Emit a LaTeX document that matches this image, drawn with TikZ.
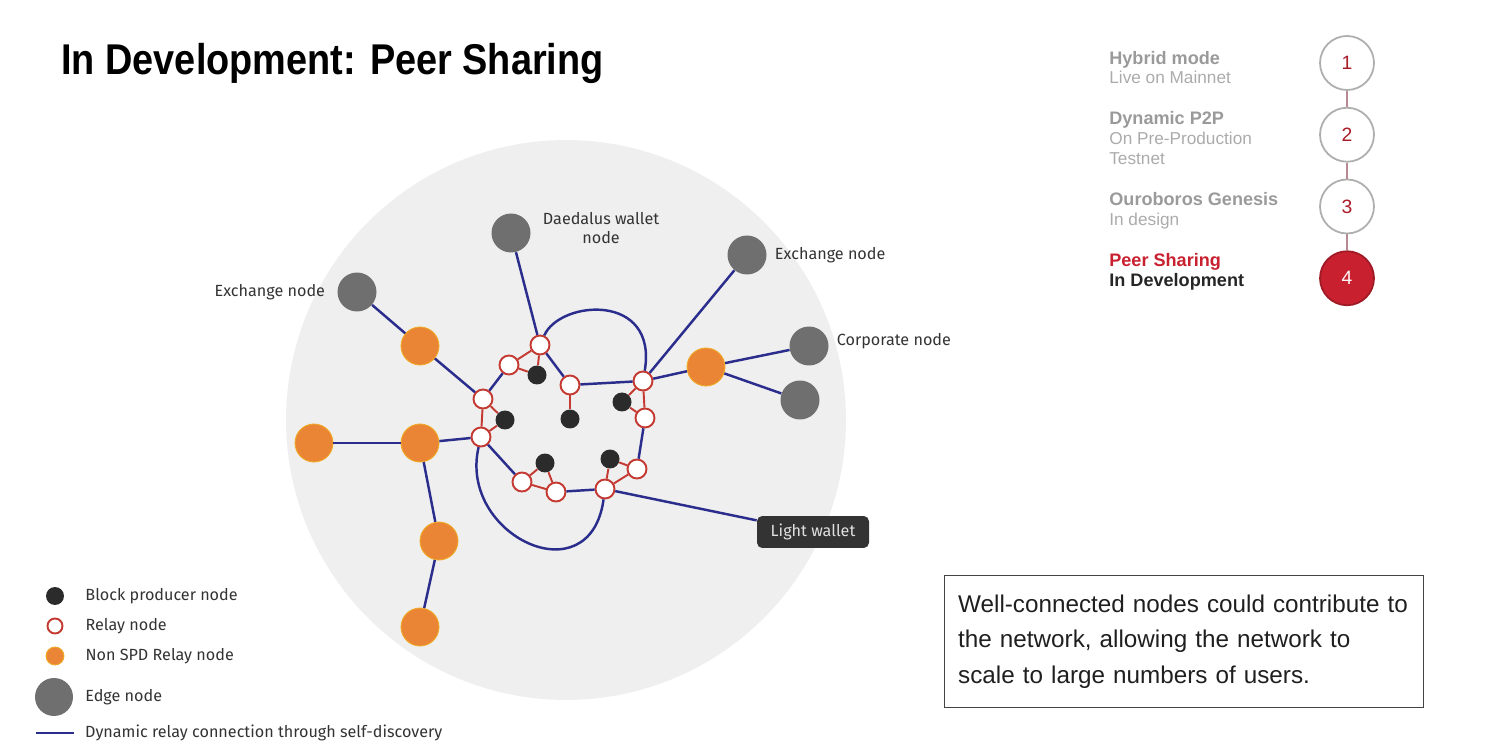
\documentclass[tikz,border=0pt]{standalone}
\usepackage{fontspec}
\setmainfont{Liberation Sans}
\newfontfamily\labelfont{Fira Sans}
\newfontfamily\titlefont[FakeStretch=0.88]{Liberation Sans}
\usetikzlibrary{positioning}

\definecolor{bgcircle}{HTML}{EFEFEF}
\definecolor{edgegray}{HTML}{6F6F6F}
\definecolor{spoorange}{HTML}{EA8535}
\definecolor{bpblack}{HTML}{2B2B2B}
\definecolor{relayred}{HTML}{C43A32}
\definecolor{dynblue}{HTML}{2B2D8C}
\definecolor{labeltext}{HTML}{333333}
\definecolor{stepgray}{HTML}{9A9A9A}
\definecolor{subgray}{HTML}{ABABAB}
\definecolor{pred}{HTML}{C8202F}
\definecolor{stepline}{HTML}{B58A90}
\definecolor{boxgray}{HTML}{444444}

\begin{document}
\begin{tikzpicture}[x=0.02cm, y=-0.02cm,
  edgenode/.style={circle, fill=edgegray, minimum size=0.78cm, inner sep=0pt},
  spo/.style={circle, fill=spoorange, draw=spoorange!70!yellow, line width=0.5pt, minimum size=0.76cm, inner sep=0pt},
  relay/.style={circle, draw=relayred, line width=1.1pt, fill=white, minimum size=0.38cm, inner sep=0pt},
  bp/.style={circle, fill=bpblack, minimum size=0.38cm, inner sep=0pt},
  dyn/.style={draw=dynblue, line width=1.4pt},
  link/.style={draw=relayred, line width=1.1pt},
  lbl/.style={font=\labelfont\fontsize{9.2}{10.5}\selectfont, text=labeltext, inner sep=1pt},
  tip/.style={fill=labeltext, rounded corners=3pt, text=white!88!black, minimum width=2.24cm, minimum height=0.64cm, font=\labelfont\fontsize{9.2}{10.5}\selectfont},
  stepc/.style={circle, draw=stepgray!80, line width=1pt, fill=white, minimum size=1.08cm, inner sep=0pt, text=pred!85!black, font=\fontsize{11}{12}\selectfont},
  sttl/.style={anchor=base west, inner sep=0pt, text=stepgray, font=\bfseries\fontsize{10.3}{12}\selectfont},
  ssub/.style={anchor=base west, inner sep=0pt, text=subgray, font=\fontsize{9.8}{12}\selectfont}]

\useasboundingbox (0,0) rectangle (1494,756);

% title
\node[anchor=west, inner sep=0pt, font=\titlefont\bfseries\fontsize{24.5}{28}\selectfont] (title) at (61,63) {In Development: Peer Sharing};

% network
\fill[bgcircle] (566,420) circle (5.6cm);

\node[edgenode] (exl) at (357,292) {};
\node[edgenode] (dae) at (511,233) {};
\node[edgenode] (exr) at (747,255) {};
\node[edgenode] (corp) at (809,346) {};
\node[edgenode] (edg) at (800,400) {};
\node[lbl, left=0.2cm of exl] (exltxt) {Exchange node};
\node[lbl, align=center, right=0.2cm of dae, yshift=0.1cm] (daetxt) {Daedalus wallet\\node};
\node[lbl, right=0.12cm of exr] (exrtxt) {Exchange node};
\node[lbl, right=0.12cm of corp, yshift=0.1cm] (corptxt) {Corporate node};

\node[spo] (o1) at (420,346) {};
\node[spo] (o2) at (314,443) {};
\node[spo] (o3) at (420,443) {};
\node[spo] (o4) at (439,541) {};
\node[spo] (o5) at (420,627) {};
\node[spo] (o6) at (706,367) {};

\node[relay] (r1) at (540,345) {};
\node[relay] (r2) at (509,365) {};
\node[relay] (r3) at (570,385) {};
\node[relay] (r4) at (643,381) {};
\node[relay] (r5) at (645,418) {};
\node[relay] (r6) at (483,399) {};
\node[relay] (r7) at (481,437) {};
\node[relay] (r8) at (522,482) {};
\node[relay] (r9) at (556,492) {};
\node[relay] (r10) at (605,489) {};
\node[relay] (r11) at (637,469) {};

\node[bp] (b1) at (537,375) {};
\node[bp] (b2) at (505,420) {};
\node[bp] (b3) at (570,419) {};
\node[bp] (b4) at (622,402) {};
\node[bp] (b5) at (545,463) {};
\node[bp] (b6) at (610,459) {};

\node[tip] (lw) at (813,532) {Light wallet};

\path[dyn] (dae) edge (r1)
           (r1) edge (r3)
           (r3) edge (r4)
           (r2) edge (r6)
           (exl) edge (o1)
           (o1) edge (r6)
           (r7) edge (o3)
           (o2) edge (o3)
           (o3) edge (o4)
           (o4) edge (o5)
           (r7) edge (r8)
           (r9) edge (r10)
           (r5) edge (r11)
           (r4) edge (exr)
           (r4) edge (o6)
           (o6) edge (corp)
           (o6) edge (edg)
           (r10) edge (lw);
\draw[dyn] (r1) .. controls (560,300) and (658,292) .. (r4);
\draw[dyn] (r7) .. controls (458,535) and (590,598) .. (r10);

\path[link] (b1) edge (r1) (b1) edge (r2) (r1) edge (r2)
            (r3) edge (b3)
            (r6) edge (r7) (r6) edge (b2) (r7) edge (b2)
            (r4) edge (r5) (r4) edge (b4) (r5) edge (b4)
            (r8) edge (r9) (r8) edge (b5) (r9) edge (b5)
            (r10) edge (r11) (r10) edge (b6) (r11) edge (b6);

% legend
\node[bp, minimum size=0.36cm] (lbp) at (55,596) {};
\node[relay, minimum size=0.3cm] (lrel) at (55,626) {};
\node[spo, minimum size=0.36cm] (lspo) at (55,656) {};
\node[edgenode, minimum size=0.76cm] (ledge) at (54,697) {};
\coordinate (ldyn1) at (36,733);
\coordinate (ldyn2) at (74,733);
\draw[dyn] (ldyn1) -- (ldyn2);
\node[lbl, right=0.38cm of lbp] (lbptxt) {Block producer node};
\node[lbl, right=0.4cm of lrel] (lreltxt) {Relay node};
\node[lbl, right=0.38cm of lspo] (lspotxt) {Non SPD Relay node};
\node[lbl, right=0.2cm of ledge] (ledgetxt) {Edge node};
\node[lbl, right=0.18cm of ldyn2] (ldyntxt) {Dynamic relay connection through self-discovery};

% roadmap
\node[stepc] (s1) at (1347,63) {1};
\node[stepc, below=0.32cm of s1] (s2) {2};
\node[stepc, below=0.32cm of s2] (s3) {3};
\node[stepc, below=0.32cm of s3, fill=pred, draw=pred!80!black, text=white!85!pink] (s4) {4};
\draw[stepline, line width=1pt] (s1) -- (s2) (s2) -- (s3) (s3) -- (s4);

\node[sttl] (t1) at (1109,65) {Hybrid mode};
\node[ssub] (u1) at (1109,84) {Live on Mainnet};
\node[sttl] (t2) at (1109,125) {Dynamic P2P};
\node[ssub] (u2) at (1109,145) {On Pre-Production};
\node[ssub] (v2) at (1109,165) {Testnet};
\node[sttl] (t3) at (1109,206) {Ouroboros Genesis};
\node[ssub] (u3) at (1109,226) {In design};
\node[sttl, text=pred] (t4) at (1109,267) {Peer Sharing};
\node[sttl, text=black!85] (u4) at (1109,287) {In Development};

% note
\node[draw=boxgray, line width=0.8pt, anchor=north west, minimum width=9.58cm, minimum height=2.64cm, text width=9.04cm, inner xsep=0.27cm, align=left, font=\fontsize{13.8}{20.4}\selectfont, text=black!88] (note) at (944,575) {Well-connected nodes could contribute to\\the network, allowing the network to\\scale to large numbers of users.};

\end{tikzpicture}
\end{document}
